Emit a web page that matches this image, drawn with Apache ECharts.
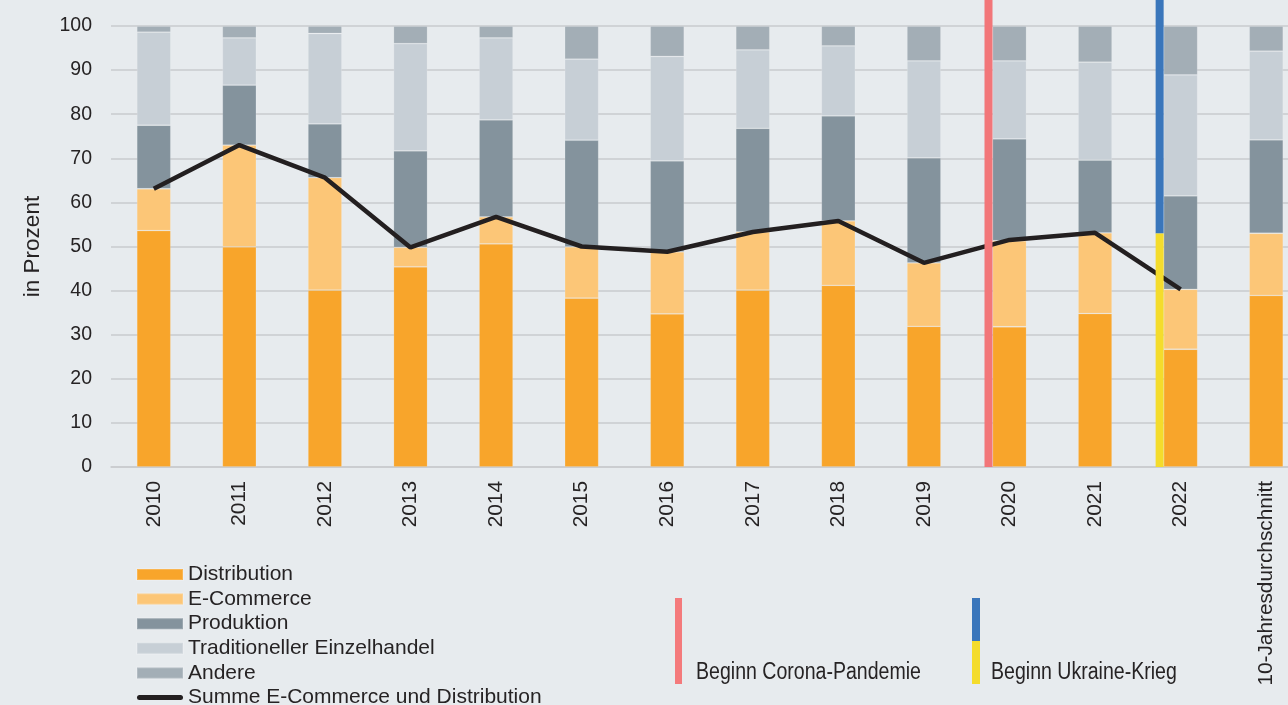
<!DOCTYPE html>
<html>
<head>
<meta charset="utf-8">
<script src="https://cdn.jsdelivr.net/npm/echarts@6/dist/echarts.min.js"></script>
<style>
html,body{margin:0;padding:0;background:#e7ebee;overflow:hidden;width:1288px;height:705px;}
#c{width:1309px;height:705px;}
</style>
</head>
<body>
<div id="c"></div>
<script>
const categories = ['2010','2011','2012','2013','2014','2015','2016','2017','2018','2019','2020','2021','2022','10-Jahresdurchschnitt'];
const distribution = [53.6, 49.9, 40.1, 45.4, 50.6, 38.3, 34.7, 40.1, 41.2, 31.9, 31.8, 34.8, 26.7, 38.9];
const eCommerce    = [ 9.5, 23.1, 25.5,  4.4,  6.1, 11.6, 14.1, 13.2, 14.6, 14.4, 19.5, 18.3, 13.6, 14.1];
const produktion   = [14.4, 13.6, 12.2, 21.9, 22.0, 24.2, 20.6, 23.5, 23.8, 23.8, 23.1, 16.5, 21.2, 21.2];
const traditionell = [21.1, 10.7, 20.5, 24.3, 18.6, 18.4, 23.7, 17.8, 15.9, 22.0, 17.7, 22.2, 27.4, 20.1];
const andere       = [ 1.4,  2.7,  1.7,  4.0,  2.7,  7.5,  6.9,  5.4,  4.5,  7.9,  7.9,  8.2, 11.1,  5.7];
const summe        = [63.1, 73.0, 65.6, 49.8, 56.7, 50.0, 48.8, 53.3, 55.8, 46.3, 51.5, 53.1, 40.3, null];
const yTicks = [0,10,20,30,40,50,60,70,80,90,100];

const FONT = '"Liberation Sans", Arial, sans-serif';
const TXT = '#262324';
const BAR_W = 34;

const chart = echarts.init(document.getElementById('c'), null, {renderer:'canvas'});

function barSeries(name, data, color){
  return {name, type:'bar', stack:'total', data, barWidth:BAR_W,
    itemStyle:{color, borderColor:'rgba(255,255,255,0.18)', borderWidth:0.8},
    emphasis:{disabled:true}, z:2};
}

const option = {
  backgroundColor:'#e7ebee',
  animation:false,
  grid:{left:111, top:26, bottom:238, right:0, containLabel:false},
  xAxis:{type:'category', data:categories,
    axisLine:{show:true, lineStyle:{color:'#c9cbce', width:1.5}},
    axisTick:{show:false},
    axisLabel:{rotate:90, margin:14, fontSize:20.8, color:TXT, fontFamily:FONT, interval:0}},
  yAxis:{type:'value', min:0, max:100, interval:10,
    name:'in Prozent', nameLocation:'middle', nameRotate:90, nameGap:67,
    nameTextStyle:{fontSize:22.5, color:TXT, fontFamily:FONT},
    axisLine:{show:false}, axisTick:{show:false},
    axisLabel:{margin:19, fontSize:19.5, color:TXT, fontFamily:FONT,
      formatter:function(v){return yTicks.indexOf(v)>=0 ? String(v) : '';}},
    splitLine:{lineStyle:{color:'#c9cbce', width:1.5}}},
  legend:{orient:'vertical', left:136, top:564, height:300, padding:0,
    itemWidth:46, itemHeight:11, itemGap:3.6,
    selectedMode:false, symbolKeepAspect:true,
    textStyle:{fontSize:21, color:TXT, fontFamily:FONT, lineHeight:21},
    data:[
      {name:'Distribution', icon:'rect'},
      {name:'E-Commerce', icon:'rect'},
      {name:'Produktion', icon:'rect'},
      {name:'Traditioneller Einzelhandel', icon:'rect'},
      {name:'Andere', icon:'rect'},
      {name:'Summe E-Commerce und Distribution', icon:'path://M2.5,0 L43.5,0 A2.5,2.5 0 0 1 43.5,5 L2.5,5 A2.5,2.5 0 0 1 2.5,0 Z'}
    ]},
  series:[
    barSeries('Distribution', distribution, '#f8a52b'),
    barSeries('E-Commerce', eCommerce, '#fcc677'),
    barSeries('Produktion', produktion, '#84939d'),
    barSeries('Traditioneller Einzelhandel', traditionell, '#c7cfd6'),
    barSeries('Andere', andere, '#a3aeb6'),
    {name:'Summe E-Commerce und Distribution', type:'line', data:summe, symbol:'none',
      color:'#231f20', lineStyle:{color:'#231f20', width:4.5}, z:4, emphasis:{disabled:true}}
  ]
};
chart.setOption(option);

function eventLines(){
  const yBottom = chart.convertToPixel({yAxisIndex:0}, 0);
  const x2020 = chart.convertToPixel({xAxisIndex:0}, '2020') - BAR_W/2 - 8;
  const x2022 = chart.convertToPixel({xAxisIndex:0}, '2022') - BAR_W/2 - 8;
  const half = yBottom/2;
  chart.setOption({graphic:[
    {type:'rect', shape:{x:x2020, y:0, width:8, height:yBottom}, style:{fill:'#f27679'}, z:10},
    {type:'rect', shape:{x:x2022, y:0, width:8, height:half}, style:{fill:'#3a76bb'}, z:10},
    {type:'rect', shape:{x:x2022, y:half, width:8, height:yBottom-half}, style:{fill:'#f4dc2c'}, z:10},
    {type:'rect', shape:{x:675, y:598, width:7, height:86}, style:{fill:'#f47a7c'}, z:10},
    {type:'text', x:696, y:684, scaleX:0.85, originX:0, style:{text:'Beginn Corona-Pandemie', font:'23px '+FONT, fill:TXT, textVerticalAlign:'bottom'}, z:10},
    {type:'rect', shape:{x:972, y:598, width:8, height:43}, style:{fill:'#3a76bb'}, z:10},
    {type:'rect', shape:{x:972, y:641, width:8, height:43}, style:{fill:'#f4dc2c'}, z:10},
    {type:'text', x:991, y:684, scaleX:0.85, originX:0, style:{text:'Beginn Ukraine-Krieg', font:'23px '+FONT, fill:TXT, textVerticalAlign:'bottom'}, z:10}
  ]});
}
eventLines();
</script>
</body>
</html>
